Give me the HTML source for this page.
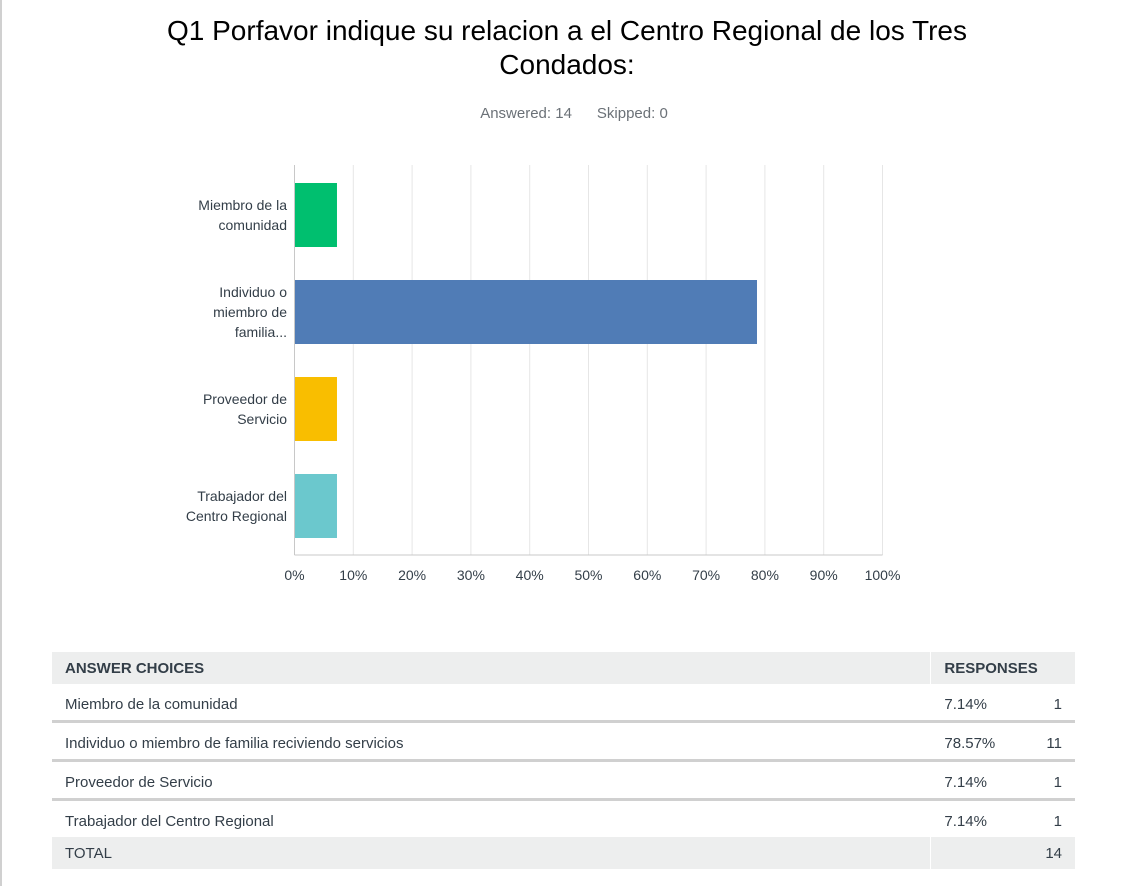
<!DOCTYPE html>
<html><head><meta charset="utf-8"><style>
body{margin:0;width:1122px;height:886px;background:#fff;position:relative;overflow:hidden;font-family:"Liberation Sans",sans-serif;}
.lb{position:absolute;left:0;top:0;width:2px;height:886px;background:#d0d0d0}
h1{position:absolute;left:0;width:1134px;top:14px;margin:0;text-align:center;font-weight:normal;font-size:28px;line-height:34px;color:#000}
.sub{position:absolute;top:105px;left:0;width:1148px;text-align:center;font-size:15px;color:#6b7177}
table{position:absolute;left:52px;top:652px;width:1023px;border-collapse:collapse;font-size:15px;color:#333e48;table-layout:fixed}
td{padding:0 13px;height:36px;}
tr.h td{background:#edeeee;font-weight:bold;height:32px}
tr.r td{border-bottom:3px solid #d0d0d0;vertical-align:top;padding-top:12px;height:24px}
tr.r:nth-child(5) td{border-bottom:none}
tr.t td{background:#edeeee;height:32px}
td.c1{width:745px}
td.c2{border-left:1px solid #fff;width:100px}
</style></head><body>
<div class="lb"></div>
<h1>Q1 Porfavor indique su relacion a el Centro Regional de los Tres<br>Condados:</h1>
<div class="sub">Answered: 14&nbsp;&nbsp;&nbsp;&nbsp;&nbsp;&nbsp;Skipped: 0</div>
<svg id="chart" width="1122" height="600" style="position:absolute;left:0;top:0"></svg>
<table>
<tr class="h"><td class="c1">ANSWER CHOICES</td><td class="c2" colspan="2">RESPONSES</td></tr>
<tr class="r"><td>Miembro de la comunidad</td><td class="c2">7.14%</td><td style="text-align:right">1</td></tr>
<tr class="r"><td>Individuo o miembro de familia reciviendo servicios</td><td class="c2">78.57%</td><td style="text-align:right">11</td></tr>
<tr class="r"><td>Proveedor de Servicio</td><td class="c2">7.14%</td><td style="text-align:right">1</td></tr>
<tr class="r"><td>Trabajador del Centro Regional</td><td class="c2">7.14%</td><td style="text-align:right">1</td></tr>
<tr class="t"><td>TOTAL</td><td class="c2"></td><td style="text-align:right">14</td></tr>
</table>
<script>
const categories=[["Miembro de la","comunidad"],["Individuo o","miembro de","familia..."],["Proveedor de","Servicio"],["Trabajador del","Centro Regional"]];
const values=[7.14,78.57,7.14,7.14];
const colors=["#00bf6f","#507cb6","#f9be00","#6bc8cd"];
const ticks=[0,10,20,30,40,50,60,70,80,90,100];
const svg=document.getElementById('chart');const NS="http://www.w3.org/2000/svg";
const x0=294.5,x1=882.5,plotTop=165,plotBot=555;
const xs=v=>x0+(x1-x0)*v/100;
const yc=i=>215+i*97;
function mk(t,a){const e=document.createElementNS(NS,t);for(const k in a)e.setAttribute(k,a[k]);svg.appendChild(e);return e;}
ticks.forEach(t=>{
 const l=mk('line',{x1:xs(t),x2:xs(t),y1:plotTop,y2:plotBot,stroke:t===0?'#c8c8c8':'#e6e6e6','stroke-width':1});
 
 
 const tx=mk('text',{x:xs(t),y:580,'text-anchor':'middle','font-size':14,fill:'#333e48','font-family':'Liberation Sans, sans-serif'});
 tx.textContent=t+'%';
 
 
});
const ax=mk('line',{x1:x0,x2:x1,y1:plotBot,y2:plotBot,stroke:'#c8c8c8','stroke-width':1});


values.forEach((v,i)=>{
 const r=mk('rect',{x:x0+0.5,y:yc(i)-32,width:xs(v)-x0,height:64,fill:colors[i]});
 
 
 const lines=categories[i];const n=lines.length;
 lines.forEach((s,j)=>{
  const t=mk('text',{x:287,y:yc(i)+5+(j-(n-1)/2)*20,'text-anchor':'end','font-size':14,fill:'#333e48','font-family':'Liberation Sans, sans-serif'});
  t.textContent=s;
  
  
 });
});
</script>
</body></html>
